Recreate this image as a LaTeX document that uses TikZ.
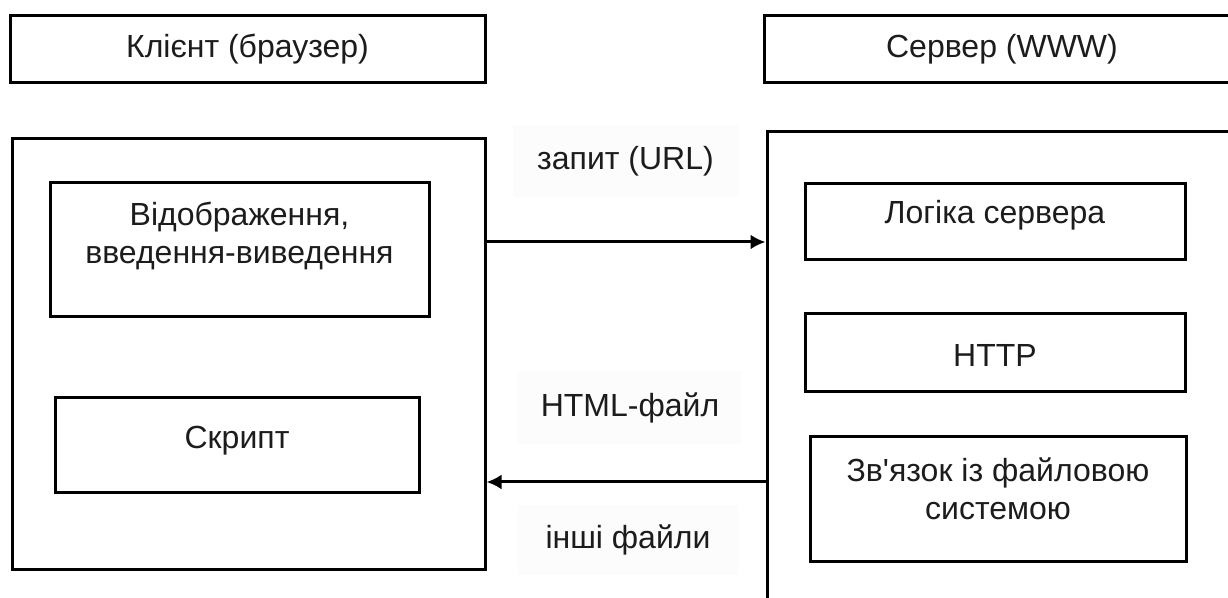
\documentclass[tikz,border=0pt]{standalone}
\usepackage{fontspec}
\setmainfont{Liberation Sans}
\usetikzlibrary{arrows.meta}
\definecolor{txtc}{HTML}{1C1C1C}
\definecolor{lblbg}{HTML}{FCFCFC}
\tikzset{
  box/.style={draw=black, line width=1.5pt, rectangle, inner sep=0pt},
  txt/.style={text=txtc, align=center, inner sep=0pt, font=\fontsize{16}{19}\selectfont},
  lbl/.style={fill=lblbg, text=txtc, inner sep=0pt, font=\fontsize{16}{19}\selectfont},
  arr/.style={draw=black, line width=1.5pt, -{Latex[length=7.5pt,width=7.5pt]}}
}
\begin{document}
\begin{tikzpicture}[x=0.5pt,y=-0.5pt]
\useasboundingbox (0,0) rectangle (1228,598);
\clip (0,0) rectangle (1228,598);
% client side
\node[box, minimum width=237.5pt, minimum height=33.5pt] (ctitle) at (247.5,49.5) {};
\node[txt] (ctitletxt) at (247.5,49.5) {Клієнт (браузер)};
\node[box, minimum width=236.5pt, minimum height=215.5pt] (client) at (248.5,354.5) {};
\node[box, minimum width=189.5pt, minimum height=67pt] (disp) at (239.5,250) {};
\node[txt] (disptxt) at (239.5,236) {Відображення,\\введення-виведення};
\node[box, minimum width=182pt, minimum height=47.5pt] (script) at (237,445.5) {};
\node[txt] (scripttxt) at (237,441) {Скрипт};
% server side
\node[box, minimum width=238pt, minimum height=33.5pt] (stitle) at (1002,49.5) {};
\node[txt] (stitletxt) at (1002,49.5) {Сервер (WWW)};
\node[box, minimum width=236.5pt, minimum height=259pt] (server) at (1003.5,391) {};
\node[box, minimum width=190pt, minimum height=38pt] (logic) at (995,222) {};
\node[txt] (logictxt) at (995,215) {Логіка сервера};
\node[box, minimum width=190pt, minimum height=39pt] (http) at (995,353) {};
\node[txt] (httptxt) at (995,355) {HTTP};
\node[box, minimum width=188pt, minimum height=62.5pt] (fs) at (998,499.5) {};
\node[txt] (fstxt) at (998,488.5) {Зв\textquotesingle язок із файловою\\системою};
% labels
\node[lbl, minimum width=112.5pt, minimum height=36pt] (l1) at (625.5,161) {запит (URL)};
\node[lbl, minimum width=112pt, minimum height=36.5pt] (l2) at (630,408) {HTML-файл};
\node[lbl, minimum width=110pt, minimum height=35pt] (l3) at (628,540) {інші файли};
% arrows
\coordinate (a1) at (0,242);
\coordinate (a2) at (0,482);
\draw[arr] (client.east |- a1) -- (server.west |- a1);
\draw[arr] (server.west |- a2) -- (client.east |- a2);
\end{tikzpicture}
\end{document}
